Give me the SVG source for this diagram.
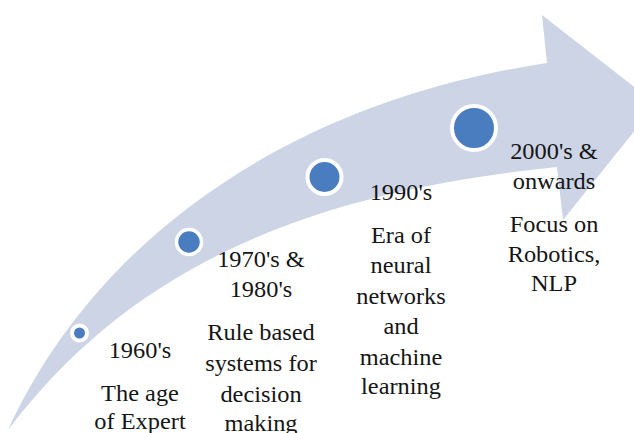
<svg xmlns="http://www.w3.org/2000/svg" width="634" height="433" viewBox="0 0 634 433">
  <style>
    .band { fill: #ccd4e5; }
    .dot { fill: #4a7dbf; stroke: #ffffff; }
    .lbl { font-family: 'Liberation Serif', 'Times New Roman', 'DejaVu Serif', serif; font-size: 23px; fill: #151515; text-anchor: middle; }
  </style>

  <!-- curved timeline arrow -->
  <g id="connectors">
    <path class="band" d="M8,430 C100,230 300,100 547,63 L542,15 L656,104 L563,220 L557,167 C330,190 140,255 8,430 Z"/>
  </g>

  <!-- 1960's -->
  <g id="node-1960s">
    <circle class="dot" cx="79.5" cy="333" r="7.5" stroke-width="4"/>
    <g transform="translate(140,0) scale(1.06,1)">
      <text class="lbl" x="0" y="358">1960's</text>
      <text class="lbl" x="0" y="401">The age</text>
      <text class="lbl" x="0" y="429">of Expert</text>
    </g>
  </g>

  <!-- 1970's & 1980's -->
  <g id="node-1970s-1980s">
    <circle class="dot" cx="189" cy="242" r="12.5" stroke-width="3.5"/>
    <g transform="translate(261,0) scale(1.06,1)">
      <text class="lbl" x="0" y="267">1970's &amp;</text>
      <text class="lbl" x="0" y="297">1980's</text>
      <text class="lbl" x="0" y="340">Rule based</text>
      <text class="lbl" x="0" y="371">systems for</text>
      <text class="lbl" x="0" y="402">decision</text>
      <text class="lbl" x="0" y="431">making</text>
    </g>
  </g>

  <!-- 1990's -->
  <g id="node-1990s">
    <circle class="dot" cx="324.5" cy="177" r="17" stroke-width="4"/>
    <g transform="translate(401,0) scale(1.06,1)">
      <text class="lbl" x="0" y="200">1990's</text>
      <text class="lbl" x="0" y="243">Era of</text>
      <text class="lbl" x="0" y="273">neural</text>
      <text class="lbl" x="0" y="304">networks</text>
      <text class="lbl" x="0" y="334">and</text>
      <text class="lbl" x="0" y="365">machine</text>
      <text class="lbl" x="0" y="394">learning</text>
    </g>
  </g>

  <!-- 2000's & onwards -->
  <g id="node-2000s">
    <circle class="dot" cx="474" cy="128" r="22" stroke-width="4"/>
    <g transform="translate(554,0) scale(1.06,1)">
      <text class="lbl" x="0" y="159">2000's &amp;</text>
      <text class="lbl" x="0" y="189">onwards</text>
      <text class="lbl" x="0" y="232">Focus on</text>
      <text class="lbl" x="0" y="262">Robotics,</text>
      <text class="lbl" x="0" y="291">NLP</text>
    </g>
  </g>
</svg>
